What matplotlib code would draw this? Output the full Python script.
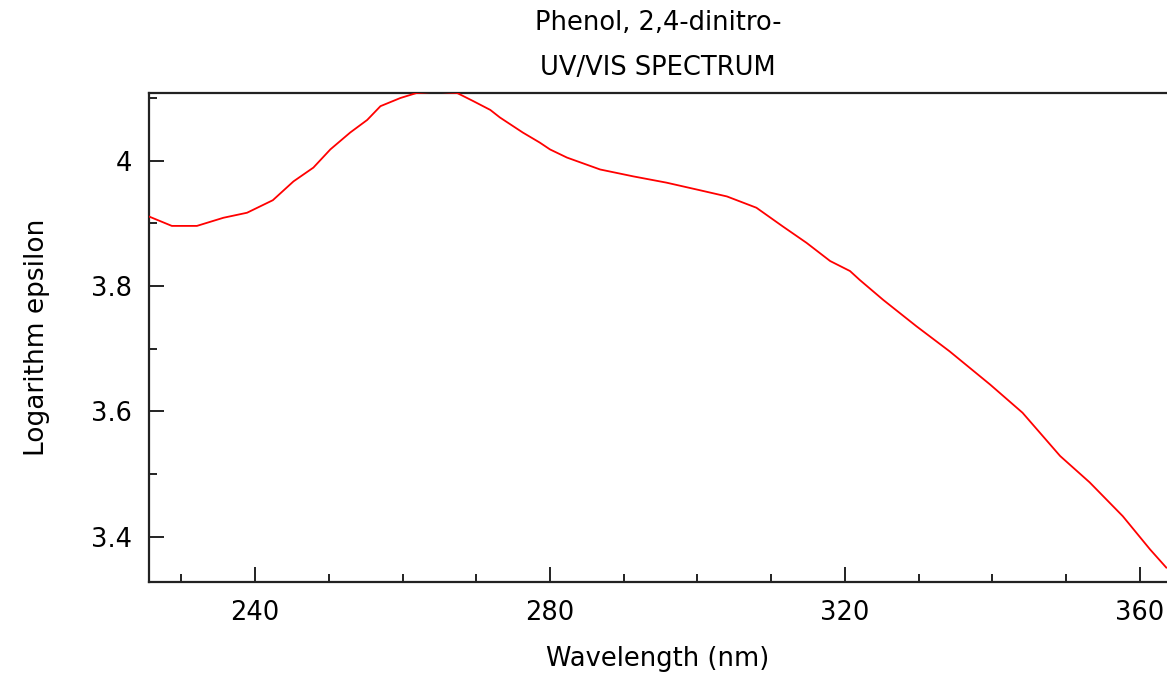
import matplotlib
matplotlib.use("Agg")
import matplotlib.pyplot as plt
from matplotlib.ticker import MultipleLocator, FormatStrFormatter

# Data
wavelength_nm = [225.6, 228.7, 232.1, 235.7, 238.9, 242.4, 245.2, 247.9, 250.2, 252.9,
                 255.2, 257.0, 259.7, 261.9, 264.5, 267.4, 269.6, 271.9, 273.2, 276.3,
                 278.6, 280.0, 282.3, 286.8, 291.3, 295.8, 300.3, 304.0, 308.0, 311.6,
                 314.8, 318.0, 320.7, 322.0, 325.2, 329.7, 334.2, 339.7, 344.1, 349.2,
                 353.2, 357.7, 361.4, 363.6]
log_epsilon = [3.911, 3.896, 3.896, 3.909, 3.917, 3.937, 3.967, 3.989, 4.018, 4.045,
               4.065, 4.087, 4.100, 4.108, 4.110, 4.108, 4.095, 4.081, 4.069, 4.045,
               4.029, 4.018, 4.005, 3.986, 3.975, 3.965, 3.953, 3.943, 3.925, 3.895,
               3.869, 3.840, 3.824, 3.810, 3.778, 3.736, 3.696, 3.643, 3.598, 3.529,
               3.487, 3.433, 3.380, 3.351]

title_lines = ["Phenol, 2,4-dinitro-", "UV/VIS SPECTRUM"]
x_label = "Wavelength (nm)"
y_label = "Logarithm epsilon"
x_major = [240, 280, 320, 360]
y_major = [3.4, 3.6, 3.8, 4.0]

plt.rcParams['font.family'] = ['DejaVu Sans']
fs = 18.5

fig = plt.figure(figsize=(11.67, 6.75), dpi=100)
ax = fig.add_axes([149/1167, 1-582/675, 1-149/1167, (582-93)/675])

ax.plot(wavelength_nm, log_epsilon, color='#ff0000', linewidth=1.3, zorder=5)

ax.set_xlim(225.6, 363.7)
ax.set_ylim(3.328, 4.108)

ax.set_xticks(x_major)
ax.set_yticks(y_major)
ax.xaxis.set_minor_locator(MultipleLocator(10))
ax.yaxis.set_minor_locator(MultipleLocator(0.1))
ax.yaxis.set_major_formatter(FormatStrFormatter('%g'))

spine_color = '#222222'
for s in ['left', 'bottom', 'top']:
    ax.spines[s].set_color(spine_color)
    ax.spines[s].set_linewidth(1.6)
ax.spines['right'].set_visible(False)

ax.tick_params(which='major', direction='in', length=11, width=1.4, color=spine_color,
               labelsize=fs, pad=13, top=False, right=False)
ax.tick_params(which='minor', direction='in', length=5.5, width=1.4, color=spine_color,
               top=False, right=False)
ax.tick_params(axis='y', which='major', pad=12)

ax.set_xlabel(x_label, fontsize=fs, labelpad=14)
ax.set_ylabel(y_label, fontsize=19, labelpad=30)

xc = 0.5 + 149/1167/2
fig.text(xc, 1-23/675, title_lines[0], ha='center', va='center', fontsize=fs)
fig.text(xc, 1-68/675, title_lines[1], ha='center', va='center', fontsize=fs)

fig.savefig("out.png", dpi=100)
